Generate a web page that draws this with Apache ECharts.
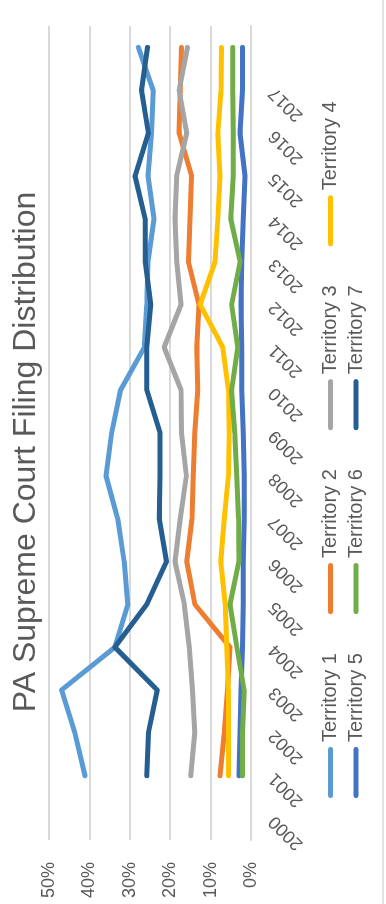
<!DOCTYPE html>
<html>
<head>
<meta charset="utf-8">
<script src="https://cdn.jsdelivr.net/npm/echarts@6/dist/echarts.min.js"></script>
<style>
  html, body { margin:0; padding:0; width:386px; height:904px; overflow:hidden; background:#fff; }
  #wrap { position:absolute; left:0; top:0; width:904px; height:386px;
          transform-origin:0 0; transform:translate(0px, 904px) rotate(-90deg); }
</style>
</head>
<body>
<div id="wrap"></div>
<script>
// Category labels (last category has data but no visible label in the reference)
const years = ['2000','2001','2002','2003','2004','2005','2006','2007','2008','2009',
               '2010','2011','2012','2013','2014','2015','2016','2017',''];
const seriesNames = ['Territory 1','Territory 2','Territory 3','Territory 4',
                     'Territory 5','Territory 6','Territory 7'];
const valueTicks = [0, 10, 20, 30, 40, 50];

// Values in percent (first category has no data)
const territory1 = [null, 41.1, 43.6, 46.9, 33.7, 30.5, 31.4, 33.0, 35.9, 34.5, 32.3, 26.4, 25.8, 25.5, 24.0, 25.5, 24.6, 24.2, 27.9];
const territory2 = [null, 7.7, 6.6, 5.8, 5.2, 13.9, 15.9, 14.6, 14.3, 13.9, 13.2, 13.4, 12.9, 15.5, 15.1, 14.7, 17.8, 17.5, 17.2];
const territory3 = [null, 14.9, 13.9, 14.5, 15.3, 16.5, 18.8, 17.5, 16.0, 17.2, 17.3, 21.5, 17.3, 18.4, 18.8, 18.4, 15.9, 17.8, 15.7];
const territory4 = [null, 5.6, 5.6, 5.6, 6.0, 6.4, 7.5, 6.6, 5.6, 5.4, 5.6, 7.0, 12.6, 8.9, 8.2, 7.7, 8.2, 7.4, 7.3];
const territory5 = [null, 3.0, 2.7, 2.5, 2.1, 1.9, 1.9, 1.7, 1.7, 1.9, 2.3, 2.3, 2.5, 2.3, 1.9, 1.5, 2.7, 2.1, 2.1];
const territory6 = [null, 2.1, 2.1, 1.7, 3.5, 5.2, 3.0, 3.1, 3.5, 4.0, 4.8, 3.3, 4.8, 2.7, 5.0, 4.4, 4.4, 4.5, 4.5];
const territory7 = [null, 25.8, 25.4, 23.2, 33.7, 25.8, 20.9, 22.7, 22.5, 22.5, 25.8, 25.8, 24.8, 26.2, 26.2, 28.7, 25.4, 27.1, 25.6];

const seriesValues = [territory1, territory2, territory3, territory4, territory5, territory6, territory7];
const colors = ['#5B9BD5','#ED7D31','#A5A5A5','#FFC000','#4472C4','#70AD47','#255E91'];

const chart = echarts.init(document.getElementById('wrap'), null, {renderer:'canvas', width:904, height:386});
const textColor = '#595959';
const font = 'Liberation Sans, Arial, sans-serif';

// rounded line-shaped legend marker
const legendIcon = 'path://M2.5,0 L48.5,0 A2.5,2.5 0 0 1 48.5,5 L2.5,5 A2.5,2.5 0 0 1 2.5,0 Z';

const legendCommon = {
  orient: 'horizontal',
  left: 106,
  padding: 0,
  icon: legendIcon,
  itemWidth: 51,
  itemHeight: 5,
  itemGap: 39,
  selectedMode: false,
  textStyle: { fontSize: 20, color: textColor, fontFamily: font }
};

chart.setOption({
  animation: false,
  backgroundColor: '#ffffff',
  color: colors,
  title: {
    text: 'PA Supreme Court Filing Distribution',
    left: 'center',
    top: 5,
    textStyle: { fontSize: 32, fontWeight: 'normal', color: textColor, fontFamily: font }
  },
  legend: [
    Object.assign({}, legendCommon, { top: 320.5, data: seriesNames.slice(0, 4) }),
    Object.assign({}, legendCommon, { top: 346, data: seriesNames.slice(4) })
  ],
  grid: { left: 64, right: 26, top: 49, bottom: 135, containLabel: false },
  xAxis: {
    type: 'category',
    data: years,
    boundaryGap: true,
    axisTick: { show: false },
    axisLine: { show: true, lineStyle: { color: '#D9D9D9', width: 2 } },
    axisLabel: { rotate: 45, interval: 0, margin: 21, fontSize: 18, color: textColor, fontFamily: font }
  },
  yAxis: {
    type: 'value',
    min: valueTicks[0],
    max: valueTicks[valueTicks.length - 1],
    interval: valueTicks[1] - valueTicks[0],
    axisLine: { show: false },
    axisTick: { show: false },
    axisLabel: { formatter: '{value}%', margin: 22, fontSize: 18, color: textColor, fontFamily: font },
    splitLine: { lineStyle: { color: '#D9D9D9', width: 2 } }
  },
  graphic: [{
    type: 'line',
    shape: { x1: 0, y1: 383, x2: 904, y2: 383 },
    style: { stroke: '#D9D9D9', lineWidth: 1.5 }
  }],
  series: seriesNames.map((name, i) => ({
    name: name,
    type: 'line',
    data: seriesValues[i],
    symbol: 'none',
    connectNulls: false,
    lineStyle: { width: 5, cap: 'round', join: 'round', color: colors[i] },
    itemStyle: { color: colors[i] }
  }))
});
</script>
</body>
</html>
